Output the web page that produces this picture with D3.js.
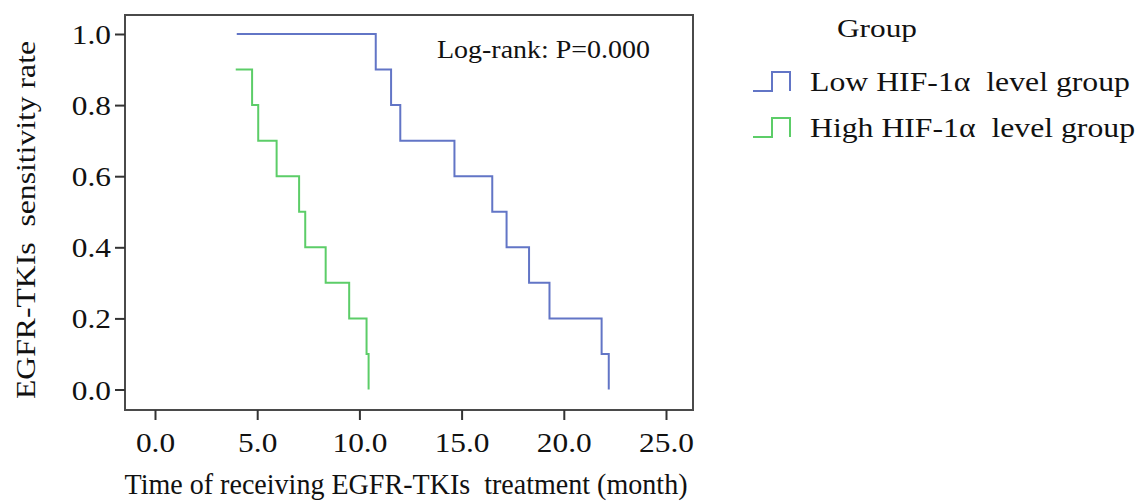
<!DOCTYPE html>
<html><head><meta charset="utf-8">
<script src="https://cdn.jsdelivr.net/npm/d3@7"></script>
<style>body{margin:0;background:#fff}svg{display:block}text{font-family:"Liberation Serif","Times New Roman",serif;fill:#111;white-space:pre}</style>
</head><body><svg id="c" width="1141" height="502"></svg>
<script>
const xTicks = [0, 5, 10, 15, 20, 25];
const yTicks = [0, 0.2, 0.4, 0.6, 0.8, 1.0];
const groups = ["Low HIF-1\u03B1  level group", "High HIF-1\u03B1  level group"];
const lowTimes = [4.0, 10.8, 11.55, 12.0, 14.65, 16.5, 17.2, 18.3, 19.3, 21.85, 22.2];
const lowSurv  = [1.0, 0.9, 0.8, 0.7, 0.6, 0.5, 0.4, 0.3, 0.2, 0.1, 0.0];
const highTimes = [3.95, 4.75, 5.05, 5.95, 7.05, 7.35, 8.35, 9.5, 10.35, 10.45];
const highSurv  = [0.9, 0.8, 0.7, 0.6, 0.5, 0.4, 0.3, 0.2, 0.1, 0.0];
const colors = ["#6275c6", "#5ccd68"];

const svg = d3.select("#c");
const F = {l:125, r:693, t:15, b:410};
const x = d3.scaleLinear().domain([0,25]).range([155, 666]);
const y = d3.scaleLinear().domain([0,1]).range([389.5, 34]);

function stretch(sel, f){
  sel.each(function(){
    const w = this.getComputedTextLength();
    d3.select(this).attr("textLength", w*f).attr("lengthAdjust","spacingAndGlyphs");
  });
}

svg.append("rect").attr("x",F.l).attr("y",F.t).attr("width",F.r-F.l).attr("height",F.b-F.t)
  .attr("fill","none").attr("stroke","#4a4a4a").attr("stroke-width",2);

const xa = svg.append("g").attr("transform",`translate(0,${F.b})`)
  .call(d3.axisBottom(x).tickValues(xTicks).tickSize(10).tickFormat(d3.format(".1f")));
xa.select(".domain").remove();
xa.selectAll(".tick line").attr("stroke","#333").attr("stroke-width",2);
xa.selectAll(".tick text").attr("y",42).attr("dy",0).style("font-size","28px").attr("fill","#111").call(stretch,1.12);

const ya = svg.append("g").attr("transform",`translate(${F.l},0)`)
  .call(d3.axisLeft(y).tickValues(yTicks).tickSize(10).tickFormat(d3.format(".1f")));
ya.select(".domain").remove();
ya.selectAll(".tick line").attr("stroke","#333").attr("stroke-width",2);
ya.selectAll(".tick text").attr("x",-14).attr("dy","0.34em").style("font-size","28px").attr("fill","#111").call(stretch,1.12);

const line = d3.line().x(d=>x(d[0])).y(d=>y(d[1])).curve(d3.curveStepAfter);
const series = [d3.zip(lowTimes, lowSurv), d3.zip(highTimes, highSurv)];
series.forEach((s,i)=>{
  svg.append("path").attr("d",line(s)).attr("fill","none").attr("stroke",colors[i]).attr("stroke-width",2);
});

svg.append("text").attr("x",437).attr("y",58).style("font-size","26px").text("Log-rank: P=0.000")
  .attr("textLength",213).attr("lengthAdjust","spacingAndGlyphs");

svg.append("text").attr("x",406).attr("y",494).attr("text-anchor","middle").style("font-size","29px")
  .text("Time of receiving EGFR-TKIs  treatment (month)").attr("textLength",563).attr("lengthAdjust","spacingAndGlyphs");
svg.append("text").attr("transform","translate(35,220) rotate(-90)").attr("text-anchor","middle").style("font-size","28px")
  .text("EGFR-TKIs  sensitivity rate").attr("textLength",358).attr("lengthAdjust","spacingAndGlyphs");

svg.append("text").attr("x",837).attr("y",37).style("font-size","26px").text("Group")
  .attr("textLength",80).attr("lengthAdjust","spacingAndGlyphs");
const legY = [91, 137];
const legW = [320, 325];
groups.forEach((g,i)=>{
  const b = legY[i];
  svg.append("path").attr("d",`M753,${b}H772V${b-19}H790V${b}`).attr("fill","none").attr("stroke",colors[i]).attr("stroke-width",2);
  svg.append("text").attr("x",810).attr("y",b).style("font-size","28px").text(g)
    .attr("textLength",legW[i]).attr("lengthAdjust","spacingAndGlyphs");
});
</script></body></html>
